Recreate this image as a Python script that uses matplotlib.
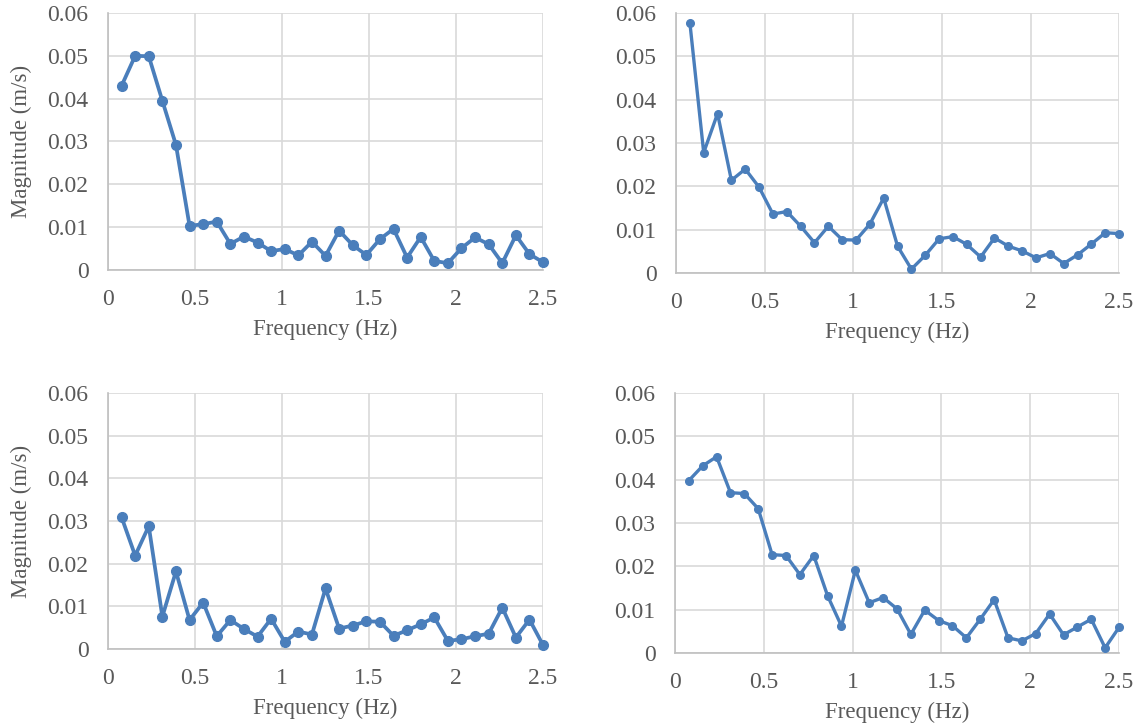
import numpy as np
import matplotlib as mpl
mpl.use('Agg')
import matplotlib.pyplot as plt

plt.rcParams['font.family'] = ['Liberation Serif', 'DejaVu Serif']

# 32 FFT bins up to 2.5 Hz
freq = [2.5 * (i + 1) / 32 for i in range(32)]

mag_a = [0.0430, 0.0500, 0.0499, 0.0395, 0.0292, 0.0103, 0.0107, 0.0113,
         0.0061, 0.0078, 0.0064, 0.0044, 0.0049, 0.0034, 0.0066, 0.0033,
         0.0092, 0.0058, 0.0035, 0.0072, 0.0096, 0.0029, 0.0077, 0.0021,
         0.0016, 0.0051, 0.0076, 0.0060, 0.0016, 0.0081, 0.0037, 0.0018]
mag_b = [0.0578, 0.0278, 0.0368, 0.0214, 0.0240, 0.0198, 0.0136, 0.0142,
         0.0108, 0.0070, 0.0108, 0.0077, 0.0076, 0.0113, 0.0173, 0.0062,
         0.0009, 0.0041, 0.0079, 0.0084, 0.0066, 0.0037, 0.0081, 0.0062,
         0.0051, 0.0035, 0.0045, 0.0022, 0.0042, 0.0067, 0.0093, 0.0091]
mag_c = [0.0309, 0.0219, 0.0288, 0.0076, 0.0182, 0.0068, 0.0109, 0.0030,
         0.0068, 0.0047, 0.0029, 0.0071, 0.0017, 0.0041, 0.0034, 0.0142,
         0.0048, 0.0055, 0.0065, 0.0064, 0.0031, 0.0044, 0.0058, 0.0074,
         0.0019, 0.0023, 0.0030, 0.0036, 0.0097, 0.0027, 0.0069, 0.0009]
mag_d = [0.0398, 0.0432, 0.0453, 0.0370, 0.0368, 0.0333, 0.0227, 0.0225,
         0.0181, 0.0225, 0.0132, 0.0062, 0.0191, 0.0116, 0.0128, 0.0102,
         0.0043, 0.0099, 0.0075, 0.0063, 0.0035, 0.0078, 0.0123, 0.0035,
         0.0028, 0.0045, 0.0090, 0.0042, 0.0060, 0.0078, 0.0012, 0.0059]

xticks = [0, 0.5, 1, 1.5, 2, 2.5]
xtick_labels = ['0', '0.5', '1', '1.5', '2', '2.5']
yticks = [0, 0.01, 0.02, 0.03, 0.04, 0.05, 0.06]
ytick_labels = ['0', '0.01', '0.02', '0.03', '0.04', '0.05', '0.06']

LINE = '#4A7EBB'
GRID = '#D9D9D9'
TEXT = '#595959'

fig = plt.figure(figsize=(11.45, 7.25), dpi=100)
rects = [
  [0.0943, 0.6276, 0.380, 0.3545],
  [0.5904, 0.6234, 0.387, 0.3586],
  [0.0943, 0.1048, 0.380, 0.3530],
  [0.5895, 0.0993, 0.3878, 0.3586],
]
series = [mag_a, mag_b, mag_c, mag_d]

for k, (rect, vals) in enumerate(zip(rects, series)):
  ax = fig.add_axes(rect)
  left = k % 2 == 0
  ax.plot(freq, vals, color=LINE, lw=2.7 if left else 2.4, marker='o',
          ms=7 if left else 5.5, mec=LINE, mfc=LINE, zorder=3, clip_on=False)
  ax.set_xlim(0, 2.5)
  ax.set_ylim(0, 0.06)
  ax.set_xticks(xticks)
  ax.set_xticklabels(xtick_labels)
  ax.set_yticks(yticks)
  ax.set_yticklabels(ytick_labels)
  ax.grid(True, color=GRID, lw=1.2)
  ax.set_axisbelow(True)
  for s in ['top', 'right']:
    ax.spines[s].set_visible(False)
  for s in ['left', 'bottom']:
    ax.spines[s].set_color('#BFBFBF')
    ax.spines[s].set_linewidth(1.2)
  ax.tick_params(length=0, labelsize=17, labelcolor=TEXT)
  ax.tick_params(axis='y', pad=14)
  ax.tick_params(axis='x', pad=14)
  ax.set_xlabel('Frequency (Hz)', fontsize=16.5, color=TEXT, labelpad=6)
  if left:
    ax.set_ylabel('Magnitude (m/s)', fontsize=16.5, color=TEXT)
    ax.yaxis.set_label_coords(-0.175, 0.5)

plt.savefig('out.png', dpi=100)
